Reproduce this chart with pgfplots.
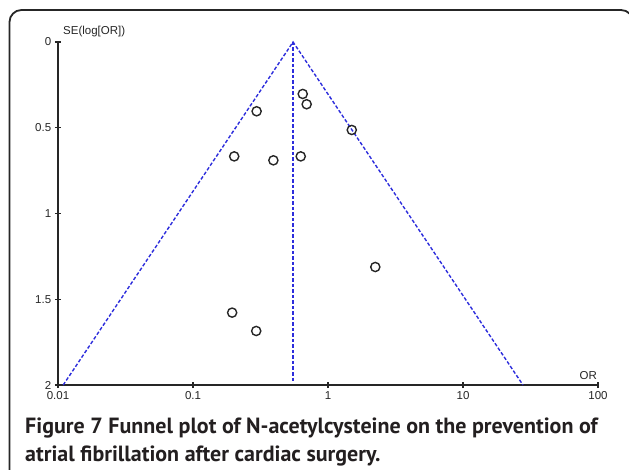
\documentclass[border=0pt]{standalone}
\usepackage{pgfplots}
\pgfplotsset{compat=1.18}
\usepackage{fontspec}
\setmainfont{Liberation Sans}
\newfontfamily\capfont{PT Sans}
\definecolor{funnel}{RGB}{45,45,220}
\definecolor{captext}{RGB}{35,31,32}
\begin{document}
\begin{tikzpicture}[x=1pt,y=1pt]
\useasboundingbox (0,0) rectangle (629,470);
\draw[line width=1.8pt, rounded corners=12pt, color=black!85] (9.5,-20) -- (9.5,460) -- (633,460) -- (633,-20);
\begin{axis}[
  at={(58pt,85pt)}, anchor=south west,
  scale only axis, width=540pt, height=343pt,
  xmode=log, xmin=0.01, xmax=100, ymin=0, ymax=2, y dir=reverse,
  axis x line*=bottom, axis y line*=left,
  axis line style={black!85, line width=1.5pt},
  xtick={0.01,0.1,1,10,100}, xticklabels={0.01,0.1,1,10,100},
  ytick={0,0.5,1,1.5,2}, yticklabels={0,0.5,1,1.5,2},
  xminorticks=false, yminorticks=false,
  tick align=center, major tick length=6.5pt,
  tick style={black!85, line width=1.3pt},
  ticklabel style={font=\fontsize{11.5}{12}\selectfont, text=black!85},
  /pgf/number format/assume math mode=true,
  clip=false,
]
\addplot[color=funnel, line width=1.4pt, dash pattern=on 3.5pt off 2pt] coordinates {(0.01093,2) (0.551,0) (27.8,2)};
\addplot[color=funnel, line width=1.4pt, dash pattern=on 3.5pt off 2pt] coordinates {(0.551,0) (0.551,1.98)};
\addplot[only marks, mark=o, mark size=4.6pt, black!85, mark options={line width=1.4pt}] coordinates {
(0.650,0.303)
(0.695,0.363)
(0.296,0.404)
(0.202,0.667)
(0.394,0.690)
(0.628,0.667)
(1.50,0.513)
(2.24,1.312)
(0.195,1.578)
(0.294,1.685)
};
\node[anchor=south west, font=\fontsize{11.5}{12}\selectfont, text=black!85, inner sep=0pt] at (axis cs:0.01,0) [xshift=5pt, yshift=5pt] {SE(log[OR])};
\node[anchor=south east, font=\fontsize{11.5}{12}\selectfont, text=black!85, inner sep=0pt] at (axis cs:100,2) [xshift=-1pt, yshift=5pt] {OR};
\end{axis}
\node[anchor=base west, inner sep=0pt, text=captext, font=\capfont\bfseries\fontsize{22}{27}\selectfont] at (25,36) {Figure 7 Funnel plot of N-acetylcysteine on the prevention of};
\node[anchor=base west, inner sep=0pt, text=captext, font=\capfont\bfseries\fontsize{22}{27}\selectfont] at (25,8.3) {atrial fibrillation after cardiac surgery.};
\end{tikzpicture}
\end{document}
